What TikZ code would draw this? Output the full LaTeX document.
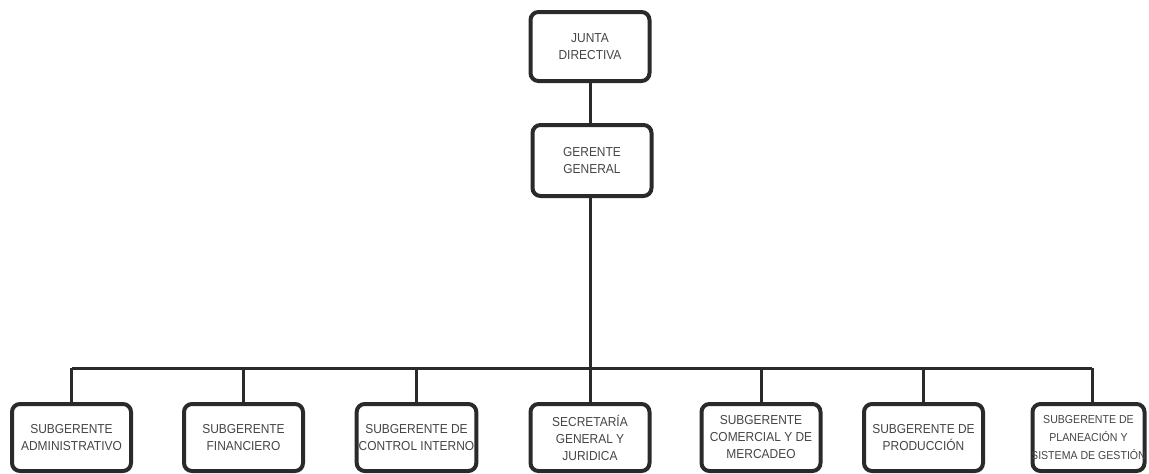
\documentclass[tikz,border=0pt]{standalone}
\usepackage{fontspec}
\newfontfamily\orgfont[FakeStretch=0.92]{Liberation Sans}
\definecolor{BoxBorder}{HTML}{2A2A2A}
\definecolor{BoxText}{HTML}{454545}
\usetikzlibrary{positioning}
\tikzset{
  % Box styles
  unitbox/.style={rectangle, rounded corners=8pt, draw=BoxBorder, line width=4pt, fill=white, text=BoxText, minimum width=119pt, minimum height=67pt, font=\orgfont\fontsize{13}{17}\selectfont, align=center, inner sep=2pt},
  % Line styles
  link/.style={draw=BoxBorder, line width=3pt}
}

\begin{document}
\begin{tikzpicture}[x=1pt, y=-1pt]
  \useasboundingbox (0,0) rectangle (1149,474);
  % Top of the chart
  \node[unitbox, minimum height=69pt] (junta) at (590,46.5) {JUNTA\\DIRECTIVA};
  \node[unitbox, minimum height=71pt] (gerente) at (592,160.5) {GERENTE\\GENERAL};

  % Subgerencias
  \node[unitbox] (sub1) at (71.5,437.5) {SUBGERENTE\\ADMINISTRATIVO};
  \node[unitbox] (sub2) at (243.5,437.5) {SUBGERENTE\\FINANCIERO};
  \node[unitbox] (sub3) at (416.5,437.5) {SUBGERENTE DE\\CONTROL INTERNO};
  \node[unitbox] (sub4) at (590,437.5) {SECRETAR\'IA\\GENERAL Y\\JURIDICA};
  \node[unitbox] (sub5) at (761,437.5) {SUBGERENTE\\COMERCIAL Y DE\\MERCADEO};
  \node[unitbox] (sub6) at (923.5,437.5) {SUBGERENTE DE\\PRODUCCI\'ON};
  \node[unitbox, font=\orgfont\fontsize{11.5}{18}\selectfont, minimum width=112pt, inner xsep=-8pt] (sub7) at (1088.5,437.5) {SUBGERENTE DE\\PLANEACI\'ON Y\\SISTEMA DE GESTI\'ON};

  % Connectors
  \coordinate (bus) at (590,368);
  \draw[link] (junta.south) -- (junta.south |- gerente.north);
  \draw[link] (gerente.south -| junta.south) -- (bus);
  \draw[link] (sub1.north |- bus) -- ([xshift=3.5pt]sub7.north |- bus);
  \foreach \n in {1,...,6}
    \draw[link] (sub\n.north |- bus) -- (sub\n.north);
  \draw[link] ([xshift=3.5pt]sub7.north |- bus) -- ([xshift=3.5pt]sub7.north);
\end{tikzpicture}
\end{document}
